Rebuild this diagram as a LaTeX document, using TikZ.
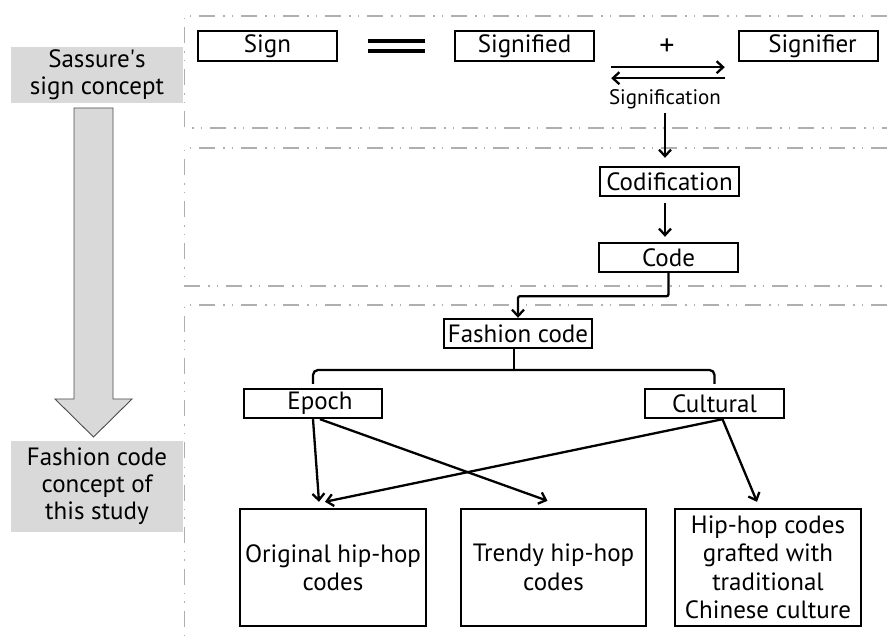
\documentclass[tikz,border=0pt]{standalone}
\usepackage{fontspec}
\setmainfont{PT Sans}
\usetikzlibrary{arrows.meta,calc}
\definecolor{panelgray}{RGB}{217,217,217}
\definecolor{framegray}{RGB}{175,175,175}
\tikzset{
  box/.style={draw, line width=2.4pt, inner sep=0pt, align=center, font=\fontsize{25}{28.5}\selectfont},
  tagbox/.style={fill=panelgray, inner sep=0pt, align=center, font=\fontsize{25}{27}\selectfont},
  frame/.style={draw=framegray, line width=1.3pt, dash pattern=on 16pt off 8pt on 1.5pt off 7pt on 1.5pt off 8pt},
  link/.style={line width=2.3pt, -{Straight Barb[length=6.5pt,width=12pt,line width=2.3pt]}},
  plain/.style={line width=2.3pt}
}
\begin{document}
\begin{tikzpicture}[x=1pt,y=-1pt]
\useasboundingbox (0,0) rectangle (887,636);

% dash-dot panels
\draw[frame] (887,16) -- (184.5,16) -- (184.5,128) -- (887,128);
\draw[frame] (887,148) -- (184.5,148) -- (184.5,286) -- (887,286);
\draw[frame] (887,305) -- (184.5,305) -- (184.5,636);

% left column
\node[tagbox, minimum width=172pt, minimum height=56pt] (saussure) at (97,75) {Sassure\textquotesingle s\\sign concept};
\node[tagbox, minimum width=172pt, minimum height=91pt] (study) at (97,486.5) {Fashion code\\concept of\\this study};
\draw[fill=panelgray, draw=black!70, line width=0.9pt]
  (74,108) -- (113,108) -- (113,399) -- (132,399) -- (93.5,437) -- (55,399) -- (74,399) -- cycle;

% sign row
\node[box, minimum width=139pt, minimum height=30pt] (sign) at (267.5,46) {Sign};
\node[box, minimum width=139pt, minimum height=30pt] (signified) at (524.5,46) {Signified};
\node[box, minimum width=139pt, minimum height=30pt] (signifier) at (808.5,46) {\hspace*{8pt}Signifier};
\node[font=\fontsize{30}{30}\selectfont, inner sep=0pt] (plus) at (667,47) {+};
\coordinate (eqL) at (368,41);
\coordinate (eqR) at (425,41);
\draw[line width=3.2pt] (eqL) -- (eqR);
\draw[line width=3.2pt] ($(eqL)+(0,10)$) -- ($(eqR)+(0,10)$);

% signification
\draw[link] ($(signified.south east)+(16,5)$) -- ($(signifier.south west)+(-13,5)$);
\draw[link] ($(signifier.south west)+(-13,16)$) -- ($(signified.south east)+(16,16)$);
\node[font=\fontsize{21}{24}\selectfont, inner sep=1pt] (signification) at (665,99) {Signification};

% codification chain
\node[box, minimum width=139pt, minimum height=29pt] (codification) at (669.5,181.5) {Codification};
\node[box, minimum width=139pt, minimum height=29pt] (code) at (668.5,257.5) {Code};
\node[box, minimum width=148pt, minimum height=29pt] (fashion) at (518,333.5) {Fashion code};
\draw[link, shorten <=3pt, shorten >=8pt] (signification.south) -- (signification.south |- codification.north);
\draw[link, shorten <=6pt, shorten >=5pt] (codification.south -| signification.south) -- (code.north -| signification.south);
\draw[link, rounded corners=2pt] (code.south) -- ++(0,23) -| (fashion.north);

% epoch / cultural
\node[box, minimum width=138pt, minimum height=29pt] (epoch) at (313,403.5) {\hspace*{14pt}Epoch};
\node[box, minimum width=139pt, minimum height=29pt] (cultural) at (714.5,403.5) {Cultural};
\coordinate (fork) at (514,370);
\draw[plain] (fashion.south -| fork) -- (fork);
\draw[plain, rounded corners=5pt] ([yshift=4pt]epoch.north) |- (fork) -| ([yshift=4pt]cultural.north);

% code types
\node[box, minimum width=186pt, minimum height=117pt] (original) at (333,567.5) {Original hip-hop\\codes};
\node[box, minimum width=185pt, minimum height=117pt] (trendy) at (553.5,567.5) {Trendy hip-hop\\codes};
\node[box, minimum width=186pt, minimum height=117pt] (grafted) at (768,567.5) {Hip-hop codes\\grafted with\\traditional\\Chinese culture};

\draw[link] (epoch.south) -- ($(original.north)+(-14,-6)$);
\draw[link] ($(epoch.south)+(7,0)$) -- ($(trendy.north)+(-6,-7)$);
\draw[link] ($(cultural.south)+(8,0)$) -- ($(original.north)+(-8,-6)$);
\draw[link] ($(cultural.south)+(8,0)$) -- ($(grafted.north)+(-11,-6)$);
\end{tikzpicture}
\end{document}
